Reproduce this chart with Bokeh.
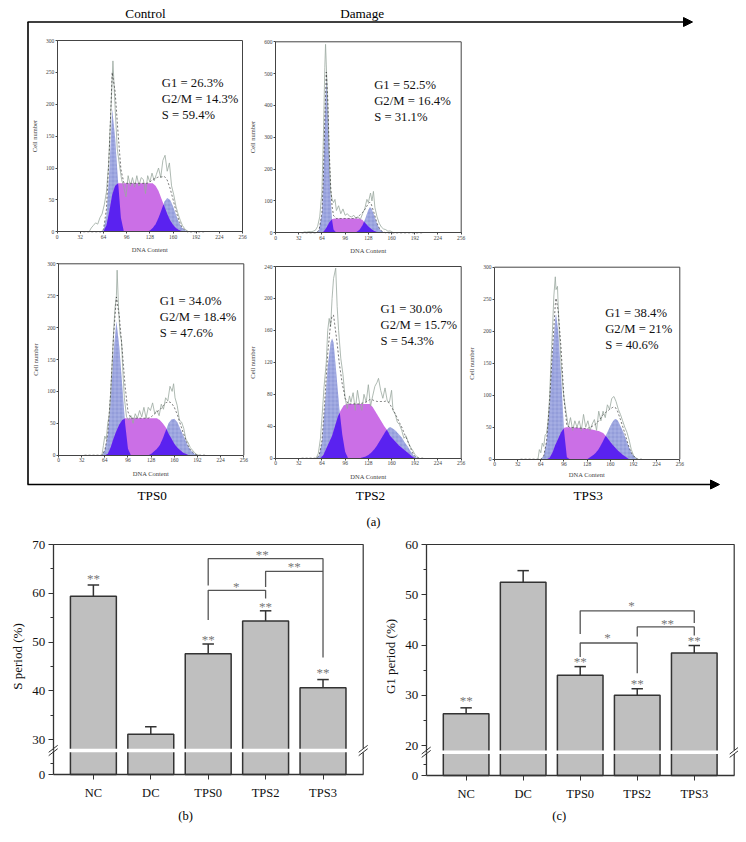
import numpy as np
from bokeh.plotting import figure
from bokeh.embed import file_html
from bokeh.resources import INLINE
from bokeh.core.properties import value
from bokeh.models import Range1d, LinearAxis, FixedTicker, Arrow, NormalHead

# ---------- flow cytometry panels: (DNA content, cell number)
p1_g1 = [(60,0),(64,3),(68,25),(72,95),(76,192),(80,148),(84,80),(88,22),(92,1),(96,0)]
p1_s = [(62,0),(64,1),(68,10),(72,32),(76,58),(80,72),(84,76),(132,76),(136,72),(140,64),(144,52),(148,40),(152,28),(156,18),(160,11),(164,6),(168,3),(172,1),(176,0)]
p1_g2 = [(124,0),(128,2),(132,6),(136,12),(140,22),(144,34),(148,47),(152,53),(156,50),(160,40),(164,27),(168,15),(172,7),(176,3),(180,0)]
p1_raw = [(44,0),(47,6),(50,10),(53,14),(56,12),(59,22),(62,28),(65,42),(68,62),(71,105),(74,185),(77,268),(80,195),(83,130),(86,105),(89,82),(92,70),(95,55),(98,88),(101,72),(104,85),(107,70),(110,88),(113,72),(116,85),(119,82),(122,60),(125,88),(128,78),(131,92),(134,80),(137,90),(140,100),(143,85),(146,112),(149,120),(152,95),(155,108),(158,72),(161,58),(164,40),(167,28),(170,18),(173,10),(176,5),(179,2),(182,0)]

p2_g1 = [(56,0),(60,8),(64,60),(66,170),(68,350),(70,490),(72,400),(74,230),(76,110),(78,40),(80,10),(84,0)]
p2_s = [(62,0),(66,3),(70,15),(74,32),(78,43),(82,45),(116,45),(120,40),(124,30),(128,20),(132,12),(136,6),(140,2),(144,0)]
p2_g2 = [(108,0),(112,3),(116,10),(120,24),(124,46),(128,72),(130,80),(132,78),(136,55),(140,28),(144,10),(148,3),(152,0)]
p2_raw = [(37,0),(40,3),(43,2),(46,4),(49,3),(52,5),(55,8),(58,20),(61,50),(64,130),(66,300),(68,520),(69,592),(70,530),(72,400),(74,240),(76,130),(78,105),(80,95),(82,105),(84,70),(87,85),(90,60),(93,75),(96,55),(99,60),(102,52),(105,50),(108,55),(111,45),(114,50),(117,42),(120,60),(123,75),(126,105),(128,95),(131,125),(133,100),(135,130),(137,80),(140,50),(143,30),(146,18),(149,12),(152,10),(155,5),(158,6),(161,2),(164,0)]

p3_g1 = [(60,0),(64,8),(68,30),(72,85),(76,160),(80,210),(84,170),(88,110),(92,50),(96,10),(100,0)]
p3_s = [(64,0),(68,2),(72,12),(76,26),(80,38),(84,48),(88,55),(92,58),(136,58),(140,55),(144,50),(148,44),(152,34),(156,26),(160,18),(164,12),(168,8),(172,4),(176,2),(180,0)]
p3_g2 = [(124,0),(128,2),(132,6),(136,10),(140,16),(144,26),(148,38),(152,50),(156,56),(160,57),(164,52),(168,42),(172,32),(176,22),(180,12),(184,6),(188,2),(192,0)]
p3_raw = [(60,0),(62,15),(64,30),(66,25),(68,50),(70,62),(72,95),(74,140),(76,190),(78,230),(80,250),(81,290),(83,230),(85,190),(87,180),(89,130),(91,90),(94,60),(97,55),(100,62),(103,50),(106,65),(109,58),(112,70),(115,60),(118,75),(121,58),(124,75),(127,70),(130,82),(133,65),(136,70),(139,62),(142,80),(145,72),(148,90),(151,85),(154,108),(157,100),(159,112),(161,90),(164,78),(167,55),(170,52),(173,42),(176,25),(179,20),(182,12),(185,8),(188,4),(191,1),(194,0)]

p4_g1 = [(56,0),(60,3),(64,20),(68,65),(72,115),(76,145),(78,150),(80,145),(84,105),(88,62),(92,30),(96,8),(100,0)]
p4_s = [(62,0),(66,4),(70,12),(74,20),(78,28),(82,40),(86,52),(90,60),(94,66),(98,68),(130,68),(134,64),(138,58),(142,52),(146,46),(150,40),(154,35),(158,28),(162,24),(166,20),(170,16),(174,13),(178,10),(182,7),(186,4),(190,1),(194,0)]
p4_g2 = [(116,0),(120,1),(124,2),(128,4),(132,7),(136,11),(140,16),(144,22),(148,28),(152,34),(156,38),(158,39),(162,37),(166,34),(170,30),(174,26),(178,20),(182,15),(186,9),(190,4),(194,1),(198,0)]
p4_raw = [(56,0),(59,6),(62,25),(64,50),(67,90),(70,120),(72,160),(74,175),(76,165),(78,200),(80,225),(83,238),(85,190),(87,160),(90,125),(93,105),(96,75),(99,62),(102,78),(104,70),(107,82),(110,60),(113,85),(116,68),(119,60),(122,80),(125,70),(128,92),(131,65),(134,78),(137,90),(140,95),(142,100),(145,85),(148,75),(151,88),(154,72),(157,70),(160,85),(162,60),(165,55),(168,45),(171,42),(174,35),(177,25),(180,28),(183,20),(186,14),(189,10),(192,5),(195,2),(198,0)]

p5_g1 = [(64,0),(68,5),(72,28),(76,85),(80,160),(84,220),(85,227),(88,200),(92,130),(96,45),(100,3),(104,0)]
p5_s = [(72,0),(76,2),(80,10),(84,22),(88,32),(92,42),(96,49),(100,50),(116,49),(132,47),(144,44),(150,41),(154,36),(158,30),(162,24),(166,19),(170,14),(174,10),(178,6),(182,3),(186,0)]
p5_g2 = [(128,0),(132,3),(136,6),(140,10),(144,16),(148,24),(152,33),(156,42),(160,52),(164,60),(167,63),(170,61),(174,52),(178,42),(182,30),(186,18),(190,8),(194,3),(198,0)]
p5_raw = [(60,0),(62,15),(64,10),(66,25),(68,20),(70,38),(72,40),(74,60),(76,95),(78,150),(80,200),(82,255),(84,285),(85,265),(87,270),(89,210),(92,150),(95,105),(98,80),(100,65),(102,50),(105,65),(108,45),(111,60),(114,50),(117,60),(120,45),(123,70),(126,50),(129,60),(132,45),(135,55),(138,62),(141,45),(144,75),(147,60),(150,75),(153,65),(156,85),(159,78),(162,95),(165,98),(168,90),(171,78),(174,70),(177,60),(180,50),(183,42),(186,30),(189,15),(192,6),(195,2),(198,0)]

p1_text = ["G1 = 26.3%", "G2/M = 14.3%", "S = 59.4%"]
p2_text = ["G1 = 52.5%", "G2/M = 16.4%", "S = 31.1%"]
p3_text = ["G1 = 34.0%", "G2/M = 18.4%", "S = 47.6%"]
p4_text = ["G1 = 30.0%", "G2/M = 15.7%", "S = 54.3%"]
p5_text = ["G1 = 38.4%", "G2/M = 21%", "S = 40.6%"]
flow_xticks = [0, 32, 64, 96, 128, 160, 192, 224, 256]

# ---------- bar panels
categories = ["NC", "DC", "TPS0", "TPS2", "TPS3"]
positions = [1, 2, 3, 4, 5]
s_values = [59.4, 31.1, 47.6, 54.3, 40.6]
s_tops = [61.7, 32.6, 49.6, 56.4, 42.3]
s_ticks = [30, 40, 50, 60, 70]
s_minor = [35, 45, 55, 65]
s_star_x = [1, 3, 4, 5, 3.94, 4.5, 3.49]
s_star_y = [63.0, 50.5, 57.3, 43.8, 67.9, 65.5, 61.4]
s_star_t = ["**", "**", "**", "**", "**", "**", "*"]
s_brackets = [([3, 3, 5, 5], [61.6, 67.1, 67.1, 46.8]),
              ([4, 4, 5], [61.3, 64.5, 64.5]),
              ([3, 3, 4, 4], [54.5, 60.6, 60.6, 58.9])]

g_values = [26.3, 52.5, 34.0, 30.0, 38.4]
g_tops = [27.5, 54.8, 35.7, 31.3, 39.9]
g_ticks = [20, 30, 40, 50, 60]
g_minor = [25, 35, 45, 55]
g_star_x = [1, 3, 4, 5, 3.9, 4.53, 3.48]
g_star_y = [28.9, 36.7, 32.3, 40.9, 47.8, 44.3, 41.4]
g_star_t = ["**", "**", "**", "**", "*", "**", "*"]
g_brackets = [([3, 3, 5, 5], [42.2, 46.8, 46.8, 44.4]),
              ([4, 4, 5, 5], [41.7, 43.6, 43.6, 41.9]),
              ([3, 3, 4, 4], [37.6, 40.4, 40.4, 34.4])]

SERIF = value("Liberation Serif")
W, H = 738, 834
INK = "#2b2b2b"
C_BLUE, C_MAG, C_OVER = "#939dda", "#cb6fe6", "#5a22f0"

p = figure(width=W, height=H, x_range=Range1d(0, W), y_range=Range1d(H, 0),
           x_axis_type=None, y_axis_type=None, toolbar_location=None, output_backend="svg",
           min_border=0, outline_line_color=None, background_fill_color="white",
           border_fill_color="white")


def add_x(name, px, lim):
    k = (lim[1] - lim[0]) / (px[1] - px[0])
    p.extra_x_ranges[name] = Range1d(lim[0] - px[0] * k, lim[0] + (W - px[0]) * k)


def add_y(name, px, lim):
    # px = (top pixel, bottom pixel); lim = (low value, high value)
    k = (lim[1] - lim[0]) / (px[1] - px[0])
    p.extra_y_ranges[name] = Range1d(lim[0] + (px[1] - H) * k, lim[0] + px[1] * k)


def label(x, y, txt, size, align="center", angle=0, color="black"):
    p.text([x], [y], text=[txt], text_font=SERIF, text_font_size=f"{size}px", text_align=align,
           text_baseline="middle", angle=angle, text_color=color)


def flow_panel(n, px, py, ymax, yticks, g1, s, g2, raw, texts, tx, ty, xlab_off=9):
    name = f"flow{n}"
    add_x(name, px, (0, 256))
    add_y(name, py, (0, ymax))
    kw = dict(x_range_name=name, y_range_name=name)
    grid = np.arange(36, 204, 0.5)
    cur = {}
    for key, arr in (("g1", g1), ("s", s), ("g2", g2)):
        xs, ys = zip(*arr)
        cur[key] = np.interp(grid, xs, ys, left=0, right=0)
    zero = np.zeros_like(grid)
    for key in ("g1", "g2"):
        p.varea(grid, zero, cur[key], fill_color=C_BLUE, hatch_pattern="cross", hatch_scale=4,
                hatch_color="#c4cbf0", hatch_alpha=0.6, hatch_weight=0.7, **kw)
    p.varea(grid, zero, cur["s"], fill_color=C_MAG, **kw)
    p.varea(grid, zero, np.minimum(cur["s"], cur["g1"]), fill_color=C_OVER, **kw)
    p.varea(grid, zero, np.minimum(cur["s"], cur["g2"]), fill_color=C_OVER, **kw)
    rx, ry = zip(*raw)
    p.line(rx, ry, line_color="#9aa89f", line_width=0.8, **kw)
    p.line(grid, cur["g1"] + cur["s"] + cur["g2"], line_color="#333333", line_width=0.7,
           line_dash="2 2", **kw)
    p.line([0, 256, 256], [ymax, ymax, 0], line_color="#444444", line_width=1, **kw)
    ax = LinearAxis(x_range_name=name, y_range_name=name, fixed_location=0, bounds=(0, ymax),
                    ticker=FixedTicker(ticks=yticks, minor_ticks=[]), axis_label="Cell number",
                    axis_label_text_font="Liberation Serif", axis_label_text_font_size="6.5px",
                    axis_label_text_font_style="normal", axis_label_standoff=5,
                    major_label_text_font="Liberation Serif", major_label_text_font_size="5.5px",
                    major_label_standoff=1, major_tick_in=0, major_tick_out=2,
                    axis_line_color="#444444", major_tick_line_color="#444444")
    p.add_layout(ax, "left")
    ax = LinearAxis(x_range_name=name, y_range_name=name, fixed_location=0, bounds=(0, 256),
                    ticker=FixedTicker(ticks=flow_xticks, minor_ticks=[]), axis_label="DNA Content",
                    axis_label_text_font="Liberation Serif", axis_label_text_font_size="6.5px",
                    axis_label_text_font_style="normal", axis_label_standoff=xlab_off - 5,
                    major_label_text_font="Liberation Serif", major_label_text_font_size="5.5px",
                    major_label_standoff=1, major_tick_in=0, major_tick_out=2,
                    axis_line_color="#444444", major_tick_line_color="#444444")
    p.add_layout(ax, "below")
    for t, y in zip(texts, ty):
        label(tx, y, t, 12.7, align="left", color="#111111")


flow_panel(1, (56.7, 242), (40, 231.3), 300, [0, 50, 100, 150, 200, 250, 300], p1_g1, p1_s, p1_g2, p1_raw,
           p1_text, 161.3, (82.7, 98.7, 114.3))
flow_panel(2, (275, 460.7), (41.3, 232.3), 600, [0, 100, 200, 300, 400, 500, 600], p2_g1, p2_s, p2_g2, p2_raw,
           p2_text, 373.7, (84.7, 100.7, 116.7))
flow_panel(3, (58, 243.3), (263.3, 454.7), 300, [0, 50, 100, 150, 200, 250, 300], p3_g1, p3_s, p3_g2, p3_raw,
           p3_text, 159.3, (300.7, 316.7, 332.7))
flow_panel(4, (275, 460.7), (266, 457.7), 240, [0, 40, 80, 120, 160, 200, 240], p4_g1, p4_s, p4_g2, p4_raw,
           p4_text, 380, (308, 324, 340))
flow_panel(5, (494, 679.3), (266.7, 458.7), 300, [0, 50, 100, 150, 200, 250, 300], p5_g1, p5_s, p5_g2, p5_raw,
           p5_text, 604.7, (312.3, 328.3, 344.3), xlab_off=6)


def bar_panel(n, px, py_up, lim_up, py_low, lim_low, vals, tops, ticks, minor, sx, sy, st, brackets, ylab, ylab_pos, band_y):
    xn, un, ln = f"bx{n}", f"bu{n}", f"bl{n}"
    add_x(xn, px, (0.3, 5.7))
    add_y(un, py_up, lim_up)
    add_y(ln, py_low, lim_low)
    up = dict(x_range_name=xn, y_range_name=un)
    low = dict(x_range_name=xn, y_range_name=ln)
    xs = np.array(positions, dtype=float)
    bar = dict(width=0.8, fill_color="#bfbfbf", line_color="#333333", line_width=1.5)
    for x0, v, t in zip(xs, vals, tops):
        p.segment([x0], [v], [x0], [t], line_color="#333333", line_width=1.5, **up)
        p.segment([x0 - 0.1], [t], [x0 + 0.1], [t], line_color="#333333", line_width=1.5, **up)
    p.vbar(xs, top=vals, bottom=lim_up[0], **bar, **up)
    p.vbar(xs, top=lim_low[1], bottom=0, **bar, **low)
    for bx, by in brackets:
        p.line(bx, by, line_color="#555555", line_width=1.3, **up)
    p.text(sx, sy, text=st, text_font=SERIF, text_font_size="13px", text_align="center",
           text_baseline="middle", text_color="#777777", **up)
    p.line([0.3, 5.7, 5.7], [lim_up[1], lim_up[1], lim_up[0]], line_color="#333333", line_width=1.2, **up)
    p.line([5.7, 5.7], [0, lim_low[1]], line_color="#333333", line_width=1.2, **low)
    tick_kw = dict(major_tick_in=0, major_tick_out=5, minor_tick_in=0, minor_tick_out=3,
                   axis_line_color="#333333", axis_line_width=1.3, major_tick_line_color="#333333",
                   minor_tick_line_color="#333333", major_label_text_font="Liberation Serif",
                   major_label_text_font_size="13px", major_label_text_color="#111111",
                   major_label_standoff=3)
    p.add_layout(LinearAxis(fixed_location=0.3, bounds=(lim_up[0], lim_up[1]),
                            ticker=FixedTicker(ticks=ticks, minor_ticks=minor), **up, **tick_kw), "left")
    p.add_layout(LinearAxis(fixed_location=0.3, bounds=(0, lim_low[1]),
                            ticker=FixedTicker(ticks=[0], minor_ticks=[5]), **low, **tick_kw), "left")
    p.add_layout(LinearAxis(fixed_location=0, bounds=(0.3, 5.7),
                            ticker=FixedTicker(ticks=positions, minor_ticks=[]),
                            major_label_overrides=dict(zip(positions, categories)), **low,
                            **{**tick_kw, "major_label_standoff": 6, "major_label_text_font_size": "12.5px"}), "below")
    # white gap of the broken axis, with the two break marks on each side
    p.quad([px[0] - 8], [px[1] + 8], [band_y - 1.7], [band_y + 1.7], fill_color="white", line_color=None)
    for cx in px:
        for dy in (-1.7, 1.7):
            p.line([cx - 4.5, cx + 4.5], [band_y + dy + 3.5, band_y + dy - 3.5], line_color="#333333", line_width=1)
    label(ylab_pos[0], ylab_pos[1], ylab, 13, angle=np.pi / 2, color="#111111")


bar_panel("b", (52.7, 362.7), (544, 750), (27.75, 70), (750, 774), (0, 11), s_values, s_tops, s_ticks, s_minor,
          s_star_x, s_star_y, s_star_t, s_brackets, "S period (%)", (16.7, 656), 750)
bar_panel("c", (425.7, 733.7), (544, 751.7), (18.67, 60), (751.7, 775), (0, 11), g_values, g_tops, g_ticks, g_minor,
          g_star_x, g_star_y, g_star_t, g_brackets, "G1 period (%)", (390, 656), 751.7)

# ---------- outer frame of panel (a)
p.line([27.5, 27.5], [21.5, 484], line_color="black", line_width=1.6)
p.add_layout(Arrow(end=NormalHead(size=9, fill_color="black", line_color="black"), x_start=27, y_start=21.5,
                   x_end=692, y_end=21.5, line_color="black", line_width=1.6))
p.add_layout(Arrow(end=NormalHead(size=9, fill_color="black", line_color="black"), x_start=27, y_start=484,
                   x_end=719, y_end=484, line_color="black", line_width=1.6))

label(145, 13, "Control", 13.2)
label(361.7, 13, "Damage", 13.2)
label(151.7, 495, "TPS0", 13.2)
label(370, 495, "TPS2", 13.2)
label(587.7, 495, "TPS3", 13.2)
label(373, 521, "(a)", 12.5)
label(185, 815, "(b)", 12.5)
label(558.7, 815, "(c)", 12.5)

open("out.html", "w").write(file_html(p, INLINE))
